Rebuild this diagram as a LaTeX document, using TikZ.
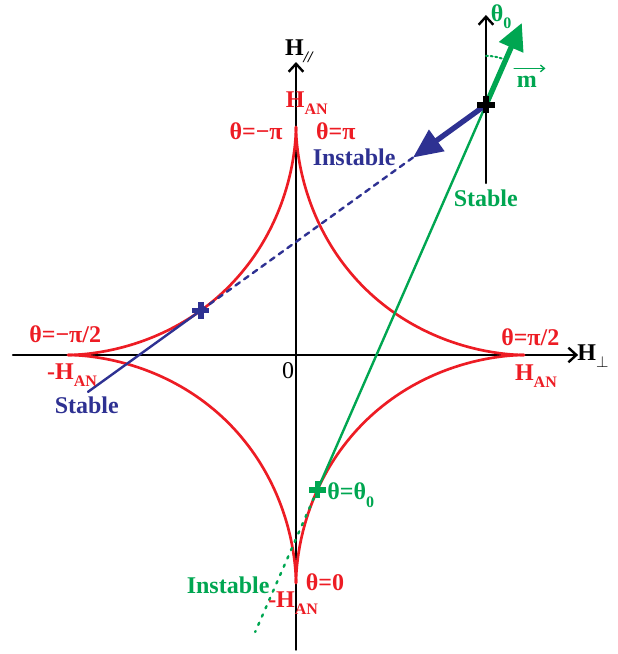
\documentclass[tikz,border=0pt]{standalone}
\usepackage{fontspec}
\setmainfont{Liberation Serif}
\usetikzlibrary{arrows.meta}
\definecolor{hred}{RGB}{237,28,36}
\definecolor{hgreen}{RGB}{0,166,81}
\definecolor{hblue}{RGB}{46,49,146}
\newcommand\lowidx[1]{\raisebox{-.3em}{\fontsize{12}{12}\selectfont#1}}
\newcommand\crossat[2]{\draw[#1,line width=4.2pt,line cap=butt](#2)++(-.15,0)--++(.30,0)(#2)++(0,-.15)--++(0,.30);}
\begin{document}
\begin{tikzpicture}[x=42.75pt,y=42.75pt,line cap=round,font=\fontsize{18}{20}\selectfont\bfseries,
 axis/.style={line width=1.8pt,-{Straight Barb[length=6pt,width=11pt,line width=1.8pt]}},
 curve/.style={hred,line width=2pt},
 thin/.style={line width=1.8pt},
 thick/.style={line width=4pt,line cap=butt}]
\useasboundingbox(-5.193,-5.246)rectangle(5.649,6.228);
% axes
\coordinate(Xa)at(-4.965,0);\coordinate(Xb)at(4.95,0);\coordinate(Ya)at(0,-5.17);\coordinate(Yb)at(0,5.14);
\draw[axis](Xa)--(Xb);\draw[axis](Ya)--(Yb);
\node(hpar)at(0.05,5.33){H\lowidx{\itshape //}};\node(hperp)at(5.21,-0.02){H\lowidx{$\perp$}};\node[font=\fontsize{18}{20}\selectfont](zero)at(-0.14,-0.27){0};
% astroid
\foreach\sx/\sy in{1/1,-1/1,1/-1,-1/-1}\draw[curve,xscale=\sx,yscale=\sy]plot[domain=0:90,samples=80,smooth]({4*sin(\x)^3*sqrt(abs(sin(\x)))},{4*cos(\x)^3*sqrt(abs(cos(\x)))});
% points and tangents
\coordinate(P)at(3.333,4.388);\coordinate(B)at(-1.669,0.781);\coordinate(Bs)at(-3.649,-0.647);\coordinate(A1)at(2.053,3.464);
\coordinate(G)at(0.376,-2.366);\coordinate(Gd)at(-0.716,-4.86);\coordinate(A2)at(3.962,5.825);
\coordinate(Pa)at(3.333,3.018);\coordinate(Pb)at(3.333,5.965);
\draw[axis](Pa)--(Pb);
\draw[hblue,thin](Bs)--(B);\draw[hblue,thin,dash pattern=on 4pt off 4pt](B)--(A1);
\draw[hgreen,thin](G)--(P);\draw[hgreen,thin,dash pattern=on 1.8pt off 5pt](G)--(Gd);
\draw[hblue,thick,-{Triangle[length=22pt,width=19pt]}](P)--(A1);
\draw[hgreen,thick,-{Triangle[length=20pt,width=19pt]}](P)--(A2);
\draw[hgreen,line width=1.5pt,dotted](P)++(90:.86)arc[start angle=90,end angle=66,radius=.86];
\crossat{hblue}{B}\crossat{hgreen}{G}\crossat{black}{P}
% red labels
\node[hred](hanT)at(0.19,4.42){H\lowidx{AN}};
\node[hred](thmpi)at(-0.70,3.92){θ=−π};\node[hred](thpi)at(0.70,3.92){θ=π};
\node[hred](thmhalf)at(-4.05,0.37){θ=−π/2};\node[hred](hanL)at(-3.93,-0.36){-H\lowidx{AN}};
\node[hred](thhalf)at(4.11,0.32){θ=π/2};\node[hred](hanR)at(4.21,-0.37){H\lowidx{AN}};
\node[hred](thzero)at(0.51,-3.98){θ=0};\node[hred](hanB)at(-0.05,-4.35){-H\lowidx{AN}};
% green labels
\node[hgreen](ththeta)at(0.96,-2.46){θ=θ\lowidx{0}};\node[hgreen](instG)at(-1.19,-4.04){Instable};
\node[hgreen](stableG)at(3.33,2.75){Stable};\node[hgreen](theta0)at(3.60,5.93){θ\lowidx{0}};
\node[hgreen,inner sep=1pt](mvec)at(4.05,4.80){m};
\draw[hgreen,line width=1pt,-{Straight Barb[length=3pt,width=5pt]}](mvec.north west)++(-.02,.1)--++(.55,0);
% blue labels
\node[hblue](instB)at(1.02,3.47){Instable};\node[hblue](stableB)at(-3.67,-0.89){Stable};
\end{tikzpicture}
\end{document}
